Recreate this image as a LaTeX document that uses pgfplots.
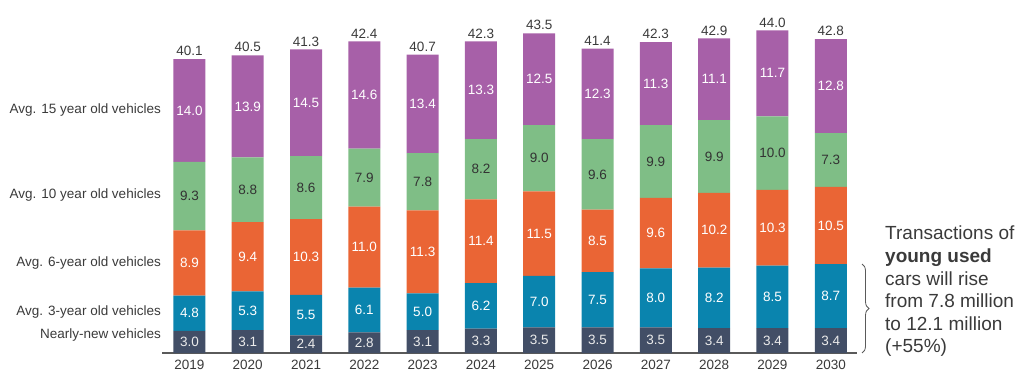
\documentclass[border=0pt]{standalone}
\usepackage{pgfplots}
\usepackage{pgfplotstable}
\pgfplotsset{compat=1.18}
\usepackage{fontspec}
\setmainfont{Liberation Sans}
\usetikzlibrary{decorations.pathreplacing}
\definecolor{cNN}{HTML}{424E66}
\definecolor{cY3}{HTML}{0A84AE}
\definecolor{cY6}{HTML}{EA6535}
\definecolor{cY10}{HTML}{7FBE86}
\definecolor{cY15}{HTML}{A760A8}
\definecolor{txt}{HTML}{3A3A3A}
\definecolor{axl}{HTML}{5A5A5A}

\pgfplotstableread{
x yr nn y3 y6 y10 y15 tot
0 2019 3.0 4.8 8.9 9.3 14.0 40.1
1 2020 3.1 5.3 9.4 8.8 13.9 40.5
2 2021 2.4 5.5 10.3 8.6 14.5 41.3
3 2022 2.8 6.1 11.0 7.9 14.6 42.4
4 2023 3.1 5.0 11.3 7.8 13.4 40.7
5 2024 3.3 6.2 11.4 8.2 13.3 42.3
6 2025 3.5 7.0 11.5 9.0 12.5 43.5
7 2026 3.5 7.5 8.5 9.6 12.3 41.4
8 2027 3.5 8.0 9.6 9.9 11.3 42.3
9 2028 3.4 8.2 10.2 9.9 11.1 42.9
10 2029 3.4 8.5 10.3 10.0 11.7 44.0
11 2030 3.4 8.7 10.5 7.3 12.8 42.8
}\data
\pgfplotstablecreatecol[expr={\thisrow{nn}/2}]{m1}\data
\pgfplotstablecreatecol[expr={\thisrow{nn}+\thisrow{y3}/2}]{m2}\data
\pgfplotstablecreatecol[expr={\thisrow{nn}+\thisrow{y3}+\thisrow{y6}/2}]{m3}\data
\pgfplotstablecreatecol[expr={\thisrow{nn}+\thisrow{y3}+\thisrow{y6}+\thisrow{y10}/2}]{m4}\data
\pgfplotstablecreatecol[expr={\thisrow{nn}+\thisrow{y3}+\thisrow{y6}+\thisrow{y10}+\thisrow{y15}/2}]{m5}\data
\pgfplotstablecreatecol[expr={\thisrow{nn}+\thisrow{y3}+\thisrow{y6}+\thisrow{y10}+\thisrow{y15}}]{top}\data

\pgfplotsset{
  common/.style={
    at={(162pt,33pt)}, anchor=south west,
    scale only axis, width=695pt, height=330.75pt,
    xmin=-0.47, xmax=11.45, ymin=0, ymax=45,
    clip=false,
  },
  lab/.style={only marks, mark=none, point meta=explicit symbolic,
    nodes near coords={\pgfplotspointmeta},
    every node near coord/.append style={anchor=center, font=\fontsize{13.5}{15}\selectfont, text=#1}},
}

\begin{document}
\begin{tikzpicture}[x=1pt,y=1pt]
\path[use as bounding box] (0,0) rectangle (1024,386);
\begin{axis}[common,
  ybar stacked, bar width=32pt,
  axis x line=bottom, axis y line=none,
  x axis line style={-, draw=axl, line width=1.1pt},
  xtick=data, xticklabels={2019,2020,2021,2022,2023,2024,2025,2026,2027,2028,2029,2030},
  major tick length=0pt,
  xticklabel style={font=\fontsize{13.5}{15}\selectfont, text=txt, yshift=-4pt},
]
\addplot[fill=cNN, draw=none] table[x=x, y=nn] {\data};
\addplot[fill=cY3, draw=none] table[x=x, y=y3] {\data};
\addplot[fill=cY6, draw=none] table[x=x, y=y6] {\data};
\addplot[fill=cY10, draw=none] table[x=x, y=y10] {\data};
\addplot[fill=cY15, draw=none] table[x=x, y=y15] {\data};
\end{axis}
\begin{axis}[common, hide axis]
\addplot[lab=white!92!black] table[x=x, y=m1, meta=nn] {\data};
\addplot[lab=white] table[x=x, y=m2, meta=y3] {\data};
\addplot[lab=white] table[x=x, y=m3, meta=y6] {\data};
\addplot[lab=black!80] table[x=x, y=m4, meta=y10] {\data};
\addplot[lab=white] table[x=x, y=m5, meta=y15] {\data};
\addplot[lab=txt, every node near coord/.append style={anchor=south, inner sep=3pt}] table[x=x, y=top, meta=tot] {\data};
\begin{scope}[every node/.style={anchor=east, font=\fontsize{13.5}{15}\selectfont, text=txt, inner sep=0pt}]
\node at (axis cs:-0.47,33.1) [xshift=-1pt] {Avg. 15 year old vehicles};
\node at (axis cs:-0.47,21.5) [xshift=-1pt] {Avg. 10 year old vehicles};
\node at (axis cs:-0.47,12.3) [xshift=-1pt] {Avg. 6-year old vehicles};
\node at (axis cs:-0.47,5.6) [xshift=-1pt] {Avg. 3-year old vehicles};
\node at (axis cs:-0.47,2.4) [xshift=-1pt] {Nearly-new vehicles};
\end{scope}
\end{axis}
\draw[decorate, decoration={brace, amplitude=7pt}, draw=axl, line width=0.8pt]
  (862,122) -- (862,33);
\node[anchor=north west, align=left, text=txt, inner sep=0pt,
  font=\fontsize{19}{22.6}\selectfont] at (885,160)
  {Transactions of\\\textbf{young used}\\cars will rise\\from 7.8 million\\to 12.1 million\\(+55\%)};
\end{tikzpicture}
\end{document}
